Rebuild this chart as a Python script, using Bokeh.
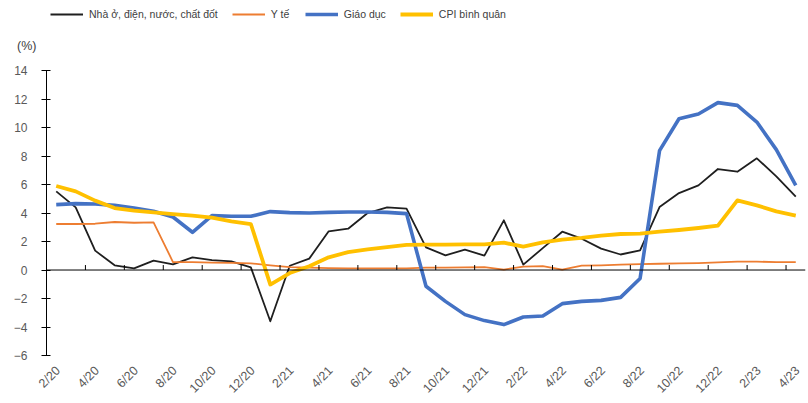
from bokeh.plotting import figure
from bokeh.models import (Range1d, FixedTicker, LinearAxis, Legend, LegendItem,
                          Span, ColumnDataSource)
from bokeh.embed import file_html
from bokeh.resources import INLINE

# ---- data ----
months = ["2/20", "3/20", "4/20", "5/20", "6/20", "7/20", "8/20", "9/20", "10/20", "11/20",
          "12/20", "1/21", "2/21", "3/21", "4/21", "5/21", "6/21", "7/21", "8/21", "9/21",
          "10/21", "11/21", "12/21", "1/22", "2/22", "3/22", "4/22", "5/22", "6/22", "7/22",
          "8/22", "9/22", "10/22", "11/22", "12/22", "1/23", "2/23", "3/23", "4/23"]

housing = [5.52, 4.40, 1.36, 0.33, 0.12, 0.66, 0.40, 0.89, 0.70, 0.61,
           0.19, -3.60, 0.30, 0.80, 2.72, 2.90, 4.00, 4.40, 4.31, 1.59,
           1.03, 1.43, 1.01, 3.49, 0.38, 1.54, 2.69, 2.20, 1.50, 1.09,
           1.38, 4.42, 5.40, 5.94, 7.09, 6.90, 7.84, 6.58, 5.15]

health = [3.23, 3.23, 3.25, 3.37, 3.32, 3.35, 0.56, 0.56, 0.52, 0.50,
          0.47, 0.33, 0.21, 0.17, 0.14, 0.12, 0.12, 0.12, 0.12, 0.17,
          0.17, 0.19, 0.21, 0.03, 0.24, 0.28, 0.03, 0.31, 0.33, 0.38,
          0.42, 0.44, 0.47, 0.49, 0.54, 0.59, 0.59, 0.56, 0.56]

education = [4.59, 4.66, 4.63, 4.54, 4.35, 4.12, 3.72, 2.65, 3.82, 3.77,
             3.77, 4.10, 4.03, 4.00, 4.05, 4.07, 4.07, 4.05, 3.96, -1.14,
             -2.20, -3.13, -3.55, -3.83, -3.30, -3.23, -2.36, -2.20, -2.13, -1.92,
             -0.60, 8.38, 10.62, 10.95, 11.75, 11.56, 10.39, 8.45, 5.94]

cpi = [5.90, 5.52, 4.87, 4.35, 4.17, 4.05, 3.93, 3.82, 3.68, 3.42,
       3.23, -1.02, -0.21, 0.26, 0.89, 1.26, 1.45, 1.61, 1.76, 1.78,
       1.78, 1.80, 1.80, 1.92, 1.64, 1.94, 2.13, 2.25, 2.41, 2.53,
       2.55, 2.69, 2.81, 2.95, 3.12, 4.89, 4.54, 4.12, 3.82]

series_names = ["Nhà ở, điện, nước, chất đốt", "Y tế", "Giáo dục", "CPI bình quân"]
y_ticks = [-6, -4, -2, 0, 2, 4, 6, 8, 10, 12, 14]
unit_label = "(%)"

FONT = "Liberation Sans"
n = len(months)
idx = list(range(n))
src = ColumnDataSource(dict(x=idx, housing=housing, health=health,
                            education=education, cpi=cpi))

# frame reaches the top of the canvas so the legend sits inside it;
# the axis itself is bounded to the data scale -6..14
y_top = 18.92
unit_pos = 15.75

p = figure(width=808, height=403, x_range=Range1d(-0.5, n - 0.5),
           y_range=Range1d(-6, y_top), output_backend="svg", toolbar_location=None,
           title=None, min_border_left=46, min_border_right=3, min_border_top=0,
           min_border_bottom=47)
p.outline_line_color = None
p.grid.visible = False
p.background_fill_color = "white"

styles = [("housing", "#1f1f1f", 1.8), ("health", "#ED7D31", 1.8),
          ("education", "#4472C4", 3.6), ("cpi", "#FFC000", 3.8)]
renderers = []
for col, color, w in styles:
    r = p.line("x", col, source=src, line_color=color, line_width=w,
               line_join="round")
    renderers.append(r)

# zero line with category-boundary tick marks (every 2 months)
p.add_layout(Span(location=0, dimension="width", line_color="black", line_width=1))
bticks = [i + 0.5 for i in range(1, n - 1, 2)]
tick_len = 5 / 14.285
p.segment(x0=bticks, y0=[0] * len(bticks), x1=bticks, y1=[tick_len] * len(bticks),
          line_color="black", line_width=1)

# x axis (labels at the bottom)
xa = p.xaxis[0]
shift = 0.1
even = [i for i in idx if i % 2 == 0]
xa.ticker = FixedTicker(ticks=[i + shift for i in even])
xa.major_label_overrides = {i + shift: months[i] for i in even}
xa.major_label_orientation = 0.785398
xa.axis_line_color = None
xa.major_tick_line_color = None
xa.major_tick_in = 0
xa.major_tick_out = 0
xa.minor_tick_line_color = None
xa.major_label_text_font = FONT
xa.major_label_text_font_size = "12.5px"
xa.major_label_text_color = "#595959"
xa.major_label_standoff = 13

# y axis
ya = p.yaxis[0]
ya.ticker = FixedTicker(ticks=y_ticks)
ya.bounds = (-6, 14)
ya.axis_line_color = "black"
ya.major_tick_line_color = "black"
ya.major_tick_in = 4
ya.major_tick_out = 5
ya.minor_tick_line_color = None
ya.major_label_text_font = FONT
ya.major_label_text_font_size = "12px"
ya.major_label_text_color = "#595959"
ya.major_label_standoff = 14

# unit label "(%)" above the y axis
ua = LinearAxis(ticker=FixedTicker(ticks=[unit_pos]),
                major_label_overrides={unit_pos: unit_label})
ua.axis_line_color = None
ua.major_tick_line_color = None
ua.major_tick_in = 0
ua.major_tick_out = 0
ua.minor_tick_line_color = None
ua.major_label_standoff = -26
ua.major_label_text_font = FONT
ua.major_label_text_font_size = "12.5px"
ua.major_label_text_color = "#404040"
p.add_layout(ua, "left")

legend = Legend(items=[LegendItem(label=nm, renderers=[r])
                       for nm, r in zip(series_names, renderers)],
                location=(4, 333), orientation="horizontal",
                glyph_width=33, glyph_height=16, label_standoff=6, spacing=14,
                padding=0, margin=0, border_line_color=None,
                background_fill_alpha=0, label_text_font=FONT,
                label_text_font_size="10.5px", label_text_color="#404040",
                label_height=16)
p.add_layout(legend, "center")

open("out.html", "w").write(file_html(p, INLINE))
